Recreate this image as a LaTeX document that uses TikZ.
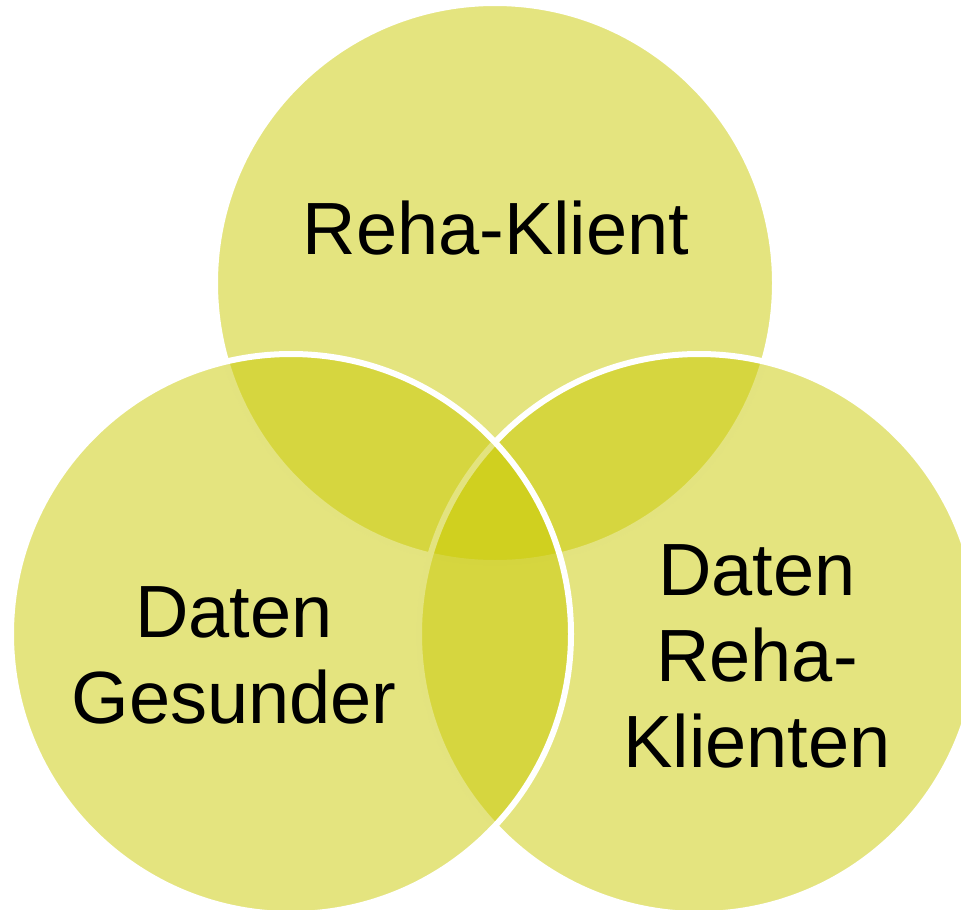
\documentclass[tikz,border=0pt]{standalone}
\usepackage{fontspec}
\setmainfont{Liberation Sans}
\definecolor{rehagruen}{RGB}{201,201,0}
\tikzset{kreis/.style={fill=rehagruen,fill opacity=0.5,draw=white,line width=6pt},
	beschr/.style={align=center,font=\fontsize{74}{86}\selectfont}}
\begin{document}
\begin{tikzpicture}[x=1pt,y=-1pt]
	\clip (0,0) rectangle (961,910);
	% oben, rechts, links
	\draw[kreis] (495,283) circle(280pt);
	\draw[kreis] (699,634) circle(280pt);
	\draw[kreis] (291,634) circle(280pt);
	\node[beschr] (klient) at (496,228) {Reha-Klient};
	\node[beschr] (gesund) at (234,655) {Daten\\Gesunder};
	\node[beschr] (klienten) at (757,656) {Daten\\Reha-\\Klienten};
\end{tikzpicture}
\end{document}
